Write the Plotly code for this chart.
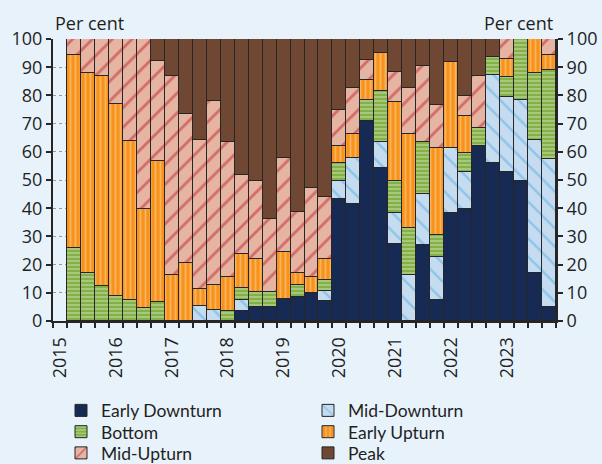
import plotly.graph_objects as go

quarters = [f"{y}-Q{q}" for y in range(2015, 2024) for q in range(1, 5)]
year_labels = [q[:4] if q.endswith("Q1") else "" for q in quarters]

early_downturn = [None, 0, 0, 0, 0, 0, 0, 0, 0, 0, 0, 0, 0, 3.5, 5.1, 5.1, 7.9, 8.6,
                  10.1, 7.1, 43.3, 41.4, 70.9, 54.2, 27.4, 0, 27.0, 7.3, 38.3, 39.8, 62.2, 56.0,
                  53.0, 49.6, 17.1, 5.1]
mid_downturn = [None, 0, 0, 0, 0, 0, 0, 0, 0, 0, 5.4, 4.0, 0, 4.0, 0, 0, 0, 0,
                0, 3.4, 6.3, 16.5, 0, 9.1, 11.0, 16.2, 18.0, 15.3, 22.9, 13.2, 0, 31.2,
                26.6, 28.7, 47.2, 52.5]
bottom = [None, 26.0, 17.1, 12.4, 8.7, 7.6, 4.6, 6.8, 0, 0, 0, 0, 3.5, 4.1, 5.3, 5.1, 0, 4.0,
          0, 3.9, 6.3, 0, 7.3, 18.3, 11.2, 16.8, 18.3, 7.8, 0, 6.7, 6.2, 6.3,
          6.8, 21.7, 23.6, 31.4]
early_upturn = [None, 68.4, 70.8, 74.6, 68.1, 56.1, 35.2, 50.0, 16.3, 20.7, 5.9, 8.8, 12.1, 12.0, 11.5, 0, 16.7, 4.4,
                5.4, 7.5, 6.3, 8.4, 7.1, 13.5, 27.9, 33.2, 0, 30.8, 30.8, 13.1, 0, 0,
                6.6, 0, 12.1, 5.5]
mid_upturn = [None, 5.6, 12.1, 13.0, 23.2, 36.3, 60.2, 35.5, 70.7, 52.6, 52.9, 65.1, 48.0, 28.0, 27.8, 26.1, 33.2, 21.7,
              31.5, 22.2, 12.5, 16.5, 7.1, 0, 10.9, 16.6, 27.2, 15.3, 0, 6.9, 18.6, 0,
              7.0, 0, 0, 5.5]
peak = [None, 0, 0, 0, 0, 0, 0, 7.7, 13.0, 26.7, 35.8, 22.1, 36.4, 48.4, 50.3, 63.7, 42.2, 61.3,
        53.0, 55.9, 25.3, 17.2, 7.6, 4.9, 11.6, 17.2, 9.5, 23.5, 8.0, 20.3, 13.0, 6.5,
        0, 0, 0, 0]

y_ticks = list(range(0, 101, 10))

FONT = "Open Sans"
LEG_FONT = "Lato"
TXT = "#1f1f1f"
BG = "#E7F2FA"
EDGE = "#262626"

series = [
    ("Early Downturn", early_downturn, "legend", dict(color="#172A54")),
    ("Mid-Downturn", mid_downturn, "legend", dict(color="#C4DBF0",
        pattern=dict(shape="\\", fgcolor="#58ACDD", bgcolor="#C4DBF0", size=13, solidity=0.18))),
    ("Bottom", bottom, "legend2", dict(color="#86B14A",
        pattern=dict(shape="-", fgcolor="#DDEBC8", bgcolor="#84B048", size=4, solidity=0.4))),
    ("Early Upturn", early_upturn, "legend2", dict(color="#F7941D",
        pattern=dict(shape="|", fgcolor="#FDD3A2", bgcolor="#F7921B", size=5, solidity=0.35))),
    ("Mid-Upturn", mid_upturn, "legend3", dict(color="#E5B4A3",
        pattern=dict(shape="/", fgcolor="#BF2329", bgcolor="#E5B4A3", size=14, solidity=0.2))),
    ("Peak", peak, "legend3", dict(color="#6F4732")),
]

fig = go.Figure()
for name, vals, lg, mk in series:
    mk = dict(mk)
    mk["line"] = dict(color=EDGE, width=1)
    fig.add_trace(go.Bar(x=quarters, y=vals, name=name, marker=mk, legend=lg))

# invisible trace for right axis
fig.add_trace(go.Scatter(x=[quarters[0]], y=[None], yaxis="y2", showlegend=False,
                         hoverinfo="skip"))


def leg(yc):
    return dict(
        orientation="h", xref="container", x=61 / 602, xanchor="left",
        yref="container", y=1 - yc / 464, yanchor="middle",
        traceorder="normal", entrywidth=202, entrywidthmode="pixels",
        font=dict(family=LEG_FONT, size=17.5, color=TXT), bgcolor="rgba(0,0,0,0)",
    )


fig.update_layout(
    width=602, height=464,
    paper_bgcolor=BG, plot_bgcolor=BG,
    barmode="stack", bargap=0,
    margin=dict(l=53, r=46, t=39, b=143),
    font=dict(family=FONT, size=18, color=TXT),
    xaxis=dict(
        type="category", categoryorder="array", categoryarray=quarters,
        range=[-0.5, len(quarters) - 0.5], automargin=False,
        tickmode="array", tickvals=quarters, ticktext=year_labels,
        tickson="boundaries", ticks="outside", ticklen=5, tickwidth=2, tickcolor=EDGE,
        tickangle=-90, tickfont=dict(size=18, color=TXT), ticklabelstandoff=7,
        showline=True, linecolor=EDGE, linewidth=2,
        showgrid=False, zeroline=False,
    ),
    yaxis=dict(
        range=[0, 100], tickvals=y_ticks, automargin=False,
        ticks="outside", ticklen=5, tickwidth=2, tickcolor=EDGE,
        showline=True, linecolor=EDGE, linewidth=2,
        showgrid=True, gridcolor="#9a9a9a", griddash="dot", gridwidth=1,
        zeroline=False, tickfont=dict(size=18, color=TXT),
    ),
    yaxis2=dict(
        overlaying="y", side="right", range=[0, 100], tickvals=y_ticks, automargin=False,
        ticks="outside", ticklen=5, tickwidth=2, tickcolor=EDGE,
        showline=True, linecolor=EDGE, linewidth=2,
        showgrid=False, zeroline=False, tickfont=dict(size=18, color=TXT),
    ),
    legend=leg(410.5),
    legend2=leg(431.8),
    legend3=leg(453),
    annotations=[
        dict(text="Per cent", xref="paper", yref="paper", x=0.0, y=1.0, xanchor="left",
             yanchor="bottom", showarrow=False, font=dict(size=18, color=TXT), yshift=2),
        dict(text="Per cent", xref="paper", yref="paper", x=0.998, y=1.0, xanchor="right",
             yanchor="bottom", showarrow=False, font=dict(size=18, color=TXT), yshift=2),
    ],
)

fig.write_html(
    "out.html",
    config={"displayModeBar": False},
    post_script="document.body.style.margin='0';document.body.style.background='#E7F2FA';",
)
